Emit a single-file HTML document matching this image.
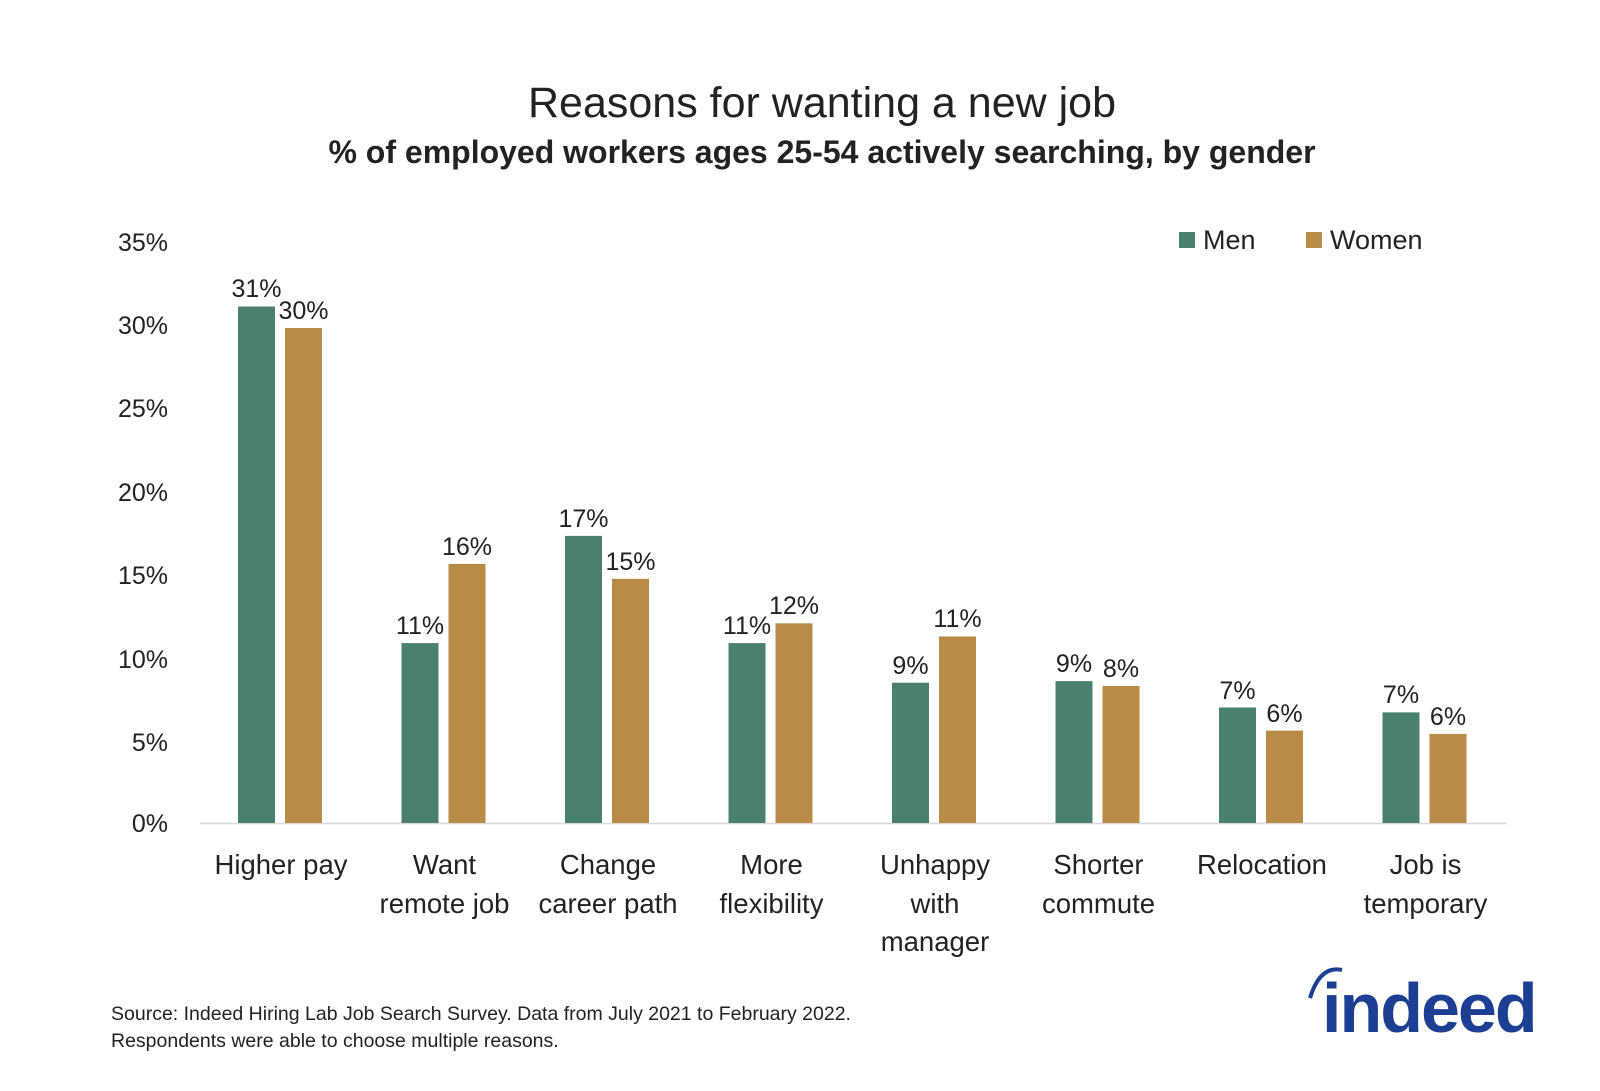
<!DOCTYPE html>
<html><head><meta charset="utf-8"><style>
html,body{margin:0;padding:0;background:#fff;}
svg text{font-family:"Liberation Sans","DejaVu Sans",sans-serif;fill:#222;}
</style></head><body>
<svg width="1600" height="1086" viewBox="0 0 1600 1086" xmlns="http://www.w3.org/2000/svg">
<text x="822" y="117" font-size="43" text-anchor="middle">Reasons for wanting a new job</text>
<text x="822" y="163" font-size="32" font-weight="bold" text-anchor="middle">% of employed workers ages 25-54 actively searching, by gender</text>
<g font-size="25" text-anchor="end">
<text x="168" y="251">35%</text><text x="168" y="334">30%</text><text x="168" y="417">25%</text>
<text x="168" y="501">20%</text><text x="168" y="584">15%</text><text x="168" y="668">10%</text>
<text x="168" y="751">5%</text><text x="168" y="832">0%</text>
</g>
<line x1="200" y1="823.5" x2="1507" y2="823.5" stroke="#d9d9d9" stroke-width="1.5"/>
<rect x="1179" y="232" width="16" height="16" fill="#4a8070"/>
<text x="1203" y="249" font-size="27">Men</text>
<rect x="1306" y="232" width="16" height="16" fill="#b88b47"/>
<text x="1330" y="249" font-size="27">Women</text>
<g fill="#4a8070">
<rect x="238" y="306.5" width="37" height="516.5"/>
<rect x="401.5" y="643.1" width="37" height="179.9"/>
<rect x="565" y="535.9" width="37" height="287.1"/>
<rect x="728.5" y="643.1" width="37" height="179.9"/>
<rect x="892" y="682.7" width="37" height="140.3"/>
<rect x="1055.5" y="681.1" width="37" height="141.9"/>
<rect x="1219" y="707.5" width="37" height="115.5"/>
<rect x="1382.5" y="712.4" width="37" height="110.6"/>
</g>
<g fill="#b88b47">
<rect x="285" y="328" width="37" height="495"/>
<rect x="448.5" y="563.9" width="37" height="259.1"/>
<rect x="612" y="578.8" width="37" height="244.2"/>
<rect x="775.5" y="623.3" width="37" height="199.7"/>
<rect x="939" y="636.5" width="37" height="186.5"/>
<rect x="1102.5" y="686" width="37" height="137"/>
<rect x="1266" y="730.6" width="37" height="92.4"/>
<rect x="1429.5" y="733.9" width="37" height="89.1"/>
</g>
<g font-size="25" text-anchor="middle">
<text x="256.5" y="297">31%</text><text x="303.5" y="319">30%</text>
<text x="420" y="634">11%</text><text x="467" y="555">16%</text>
<text x="583.5" y="527">17%</text><text x="630.5" y="570">15%</text>
<text x="747" y="634">11%</text><text x="794" y="614">12%</text>
<text x="910.5" y="674">9%</text><text x="957.5" y="627">11%</text>
<text x="1074" y="672">9%</text><text x="1121" y="677">8%</text>
<text x="1237.5" y="699">7%</text><text x="1284.5" y="722">6%</text>
<text x="1401" y="703">7%</text><text x="1448" y="725">6%</text>
</g>
<g font-size="27.5" text-anchor="middle">
<text x="281" y="874">Higher pay</text>
<text x="444.5" y="874">Want</text><text x="444.5" y="913">remote job</text>
<text x="608" y="874">Change</text><text x="608" y="913">career path</text>
<text x="771.5" y="874">More</text><text x="771.5" y="913">flexibility</text>
<text x="935" y="874">Unhappy</text><text x="935" y="913">with</text><text x="935" y="951">manager</text>
<text x="1098.5" y="874">Shorter</text><text x="1098.5" y="913">commute</text>
<text x="1262" y="874">Relocation</text>
<text x="1425.5" y="874">Job is</text><text x="1425.5" y="913">temporary</text>
</g>
<text x="111" y="1020" font-size="19.5">Source: Indeed Hiring Lab Job Search Survey. Data from July 2021 to February 2022.</text>
<text x="111" y="1047" font-size="19.5">Respondents were able to choose multiple reasons.</text>
<path d="M1310 998 Q1320 965 1342 970" stroke="#1c3f94" stroke-width="4" fill="none"/>
<text x="1322" y="1032" font-size="70" font-weight="bold" style="fill:#1c3f94" letter-spacing="-2">indeed</text>
</svg>
</body></html>
